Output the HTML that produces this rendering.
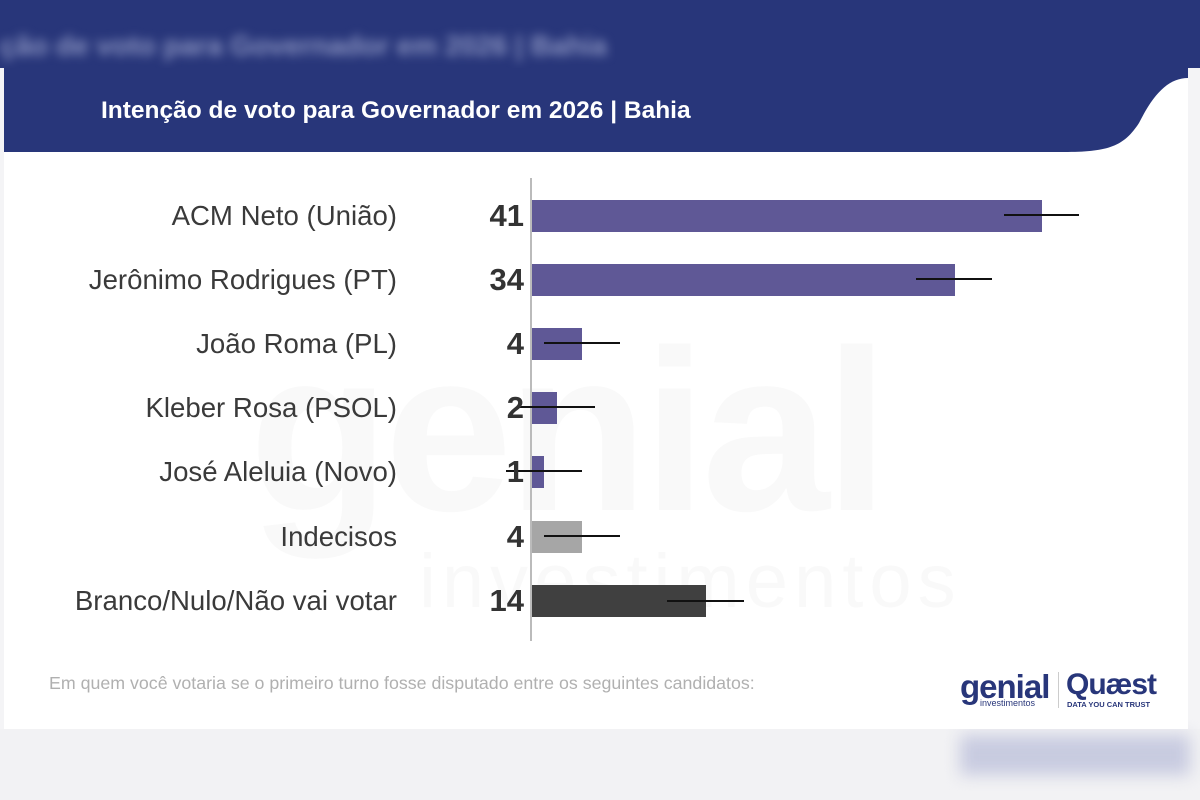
<!DOCTYPE html>
<html><head><meta charset="utf-8"><style>
body{margin:0;width:1200px;height:800px;overflow:hidden;background:#f4f4f6;font-family:"Liberation Sans",sans-serif;position:relative}
.bgtop{position:absolute;left:0;top:0;width:1200px;height:68px;background:#28367a}
.bgtxt{position:absolute;left:0;top:30px;font:bold 28px "Liberation Sans";color:#8a93c0;filter:blur(5px)}
.bgbot{position:absolute;left:0;top:729px;width:1200px;height:71px;background:#f2f2f4}
.card{position:absolute;left:4px;top:68px;width:1184px;height:661px;background:#fff;overflow:hidden}
.lbl{position:absolute;right:803px;font-size:27.6px;color:#3a3a3a;white-space:nowrap;transform:translateY(-50%)}
.num{position:absolute;right:676px;font-size:31px;font-weight:bold;color:#333;transform:translateY(-50%)}
.wm{position:absolute;left:245px;top:230px;font-size:230px;font-weight:bold;color:#f9f9f9;letter-spacing:-5px}
.wm2{position:absolute;left:415px;top:470px;font-size:76px;color:#f9f9f9;letter-spacing:6px}
</style></head><body>
<div class="bgtop"></div>
<div class="bgtxt">ção de voto para Governador em 2026 | Bahia</div>
<div class="bgbot"></div>
<div style="position:absolute;left:960px;top:735px;width:230px;height:40px;background:#c8cbe0;filter:blur(8px)"></div>
<div class="card">
<svg width="1184" height="661" style="position:absolute;left:0;top:0">
<path d="M0 0 H1184 V10 C1165 10 1150 25 1135 55 C1120 78 1105 84 1060 84 H0 Z" fill="#28367a"/>
</svg>
<div class="wm">genial</div>
<div class="wm2">investimentos</div>
<div style="position:absolute;left:97px;top:29px;font-size:24.5px;font-weight:bold;color:#fff;white-space:nowrap">Intenção de voto para Governador em 2026 | Bahia</div>
</div>
<svg width="1200" height="800" style="position:absolute;left:0;top:0">
<line x1="531" y1="178" x2="531" y2="641" stroke="#bbb" stroke-width="2"/>
<g>
<rect x="532" y="200" width="510" height="32" fill="#5f5896"/>
<rect x="532" y="264" width="423" height="32" fill="#5f5896"/>
<rect x="532" y="328" width="50" height="32" fill="#5f5896"/>
<rect x="532" y="392" width="25" height="32" fill="#5f5896"/>
<rect x="532" y="456" width="12" height="32" fill="#5f5896"/>
<rect x="532" y="521" width="50" height="32" fill="#a6a6a6"/>
<rect x="532" y="585" width="174" height="32" fill="#404040"/>
</g>
<g stroke="#111" stroke-width="2">
<line x1="1004" y1="215" x2="1079" y2="215"/>
<line x1="916" y1="279" x2="992" y2="279"/>
<line x1="544" y1="343" x2="620" y2="343"/>
<line x1="519" y1="407" x2="595" y2="407"/>
<line x1="506" y1="471" x2="582" y2="471"/>
<line x1="544" y1="536" x2="620" y2="536"/>
<line x1="667" y1="601" x2="744" y2="601"/>
</g>
</svg>
<div class="lbl" style="top:216px">ACM Neto (União)</div>
<div class="lbl" style="top:280px">Jerônimo Rodrigues (PT)</div>
<div class="lbl" style="top:344px">João Roma (PL)</div>
<div class="lbl" style="top:408px">Kleber Rosa (PSOL)</div>
<div class="lbl" style="top:472px">José Aleluia (Novo)</div>
<div class="lbl" style="top:537px">Indecisos</div>
<div class="lbl" style="top:601px">Branco/Nulo/Não vai votar</div>
<div class="num" style="top:216px">41</div>
<div class="num" style="top:280px">34</div>
<div class="num" style="top:344px">4</div>
<div class="num" style="top:408px">2</div>
<div class="num" style="top:472px">1</div>
<div class="num" style="top:537px">4</div>
<div class="num" style="top:601px">14</div>
<div style="position:absolute;left:49px;top:673px;font-size:17.8px;color:#b0b0b0;white-space:nowrap">Em quem você votaria se o primeiro turno fosse disputado entre os seguintes candidatos:</div>
<div style="position:absolute;left:960px;top:668px;font-size:33px;font-weight:bold;color:#28367a;letter-spacing:-1px">genial</div>
<div style="position:absolute;left:980px;top:698px;font-size:9px;color:#28367a">investimentos</div>
<div style="position:absolute;left:1058px;top:672px;width:1px;height:36px;background:#ccc"></div>
<div style="position:absolute;left:1066px;top:668px;font-size:30px;font-weight:bold;color:#28367a;letter-spacing:-1px">Quæst</div>
<div style="position:absolute;left:1067px;top:700px;font-size:7.5px;font-weight:bold;color:#28367a">DATA YOU CAN TRUST</div>
</body></html>
